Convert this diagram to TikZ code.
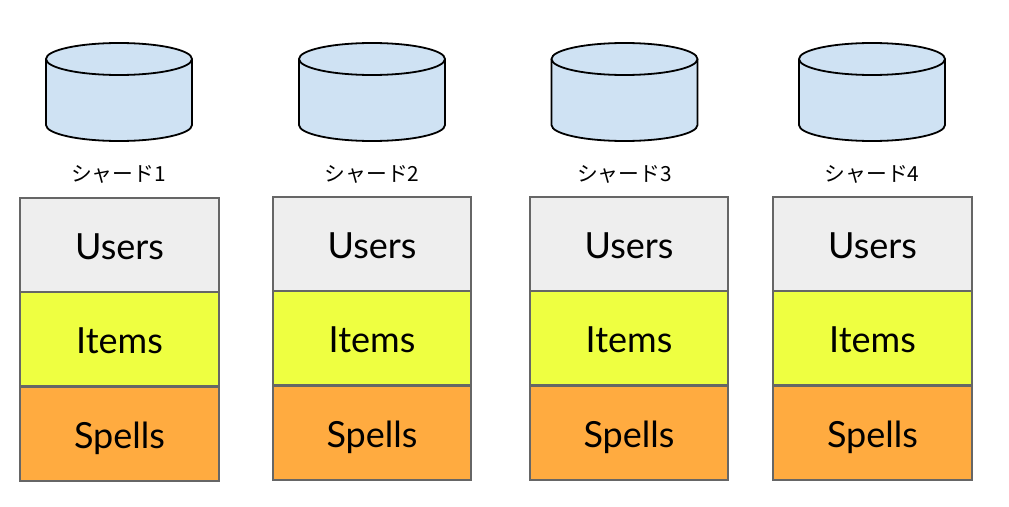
\documentclass[tikz,border=0pt]{standalone}
\usepackage{fontspec}
\setmainfont{Lato}
\newfontfamily\cjk{Noto Sans CJK JP}
\definecolor{drum}{HTML}{CFE2F3}
\definecolor{rule}{HTML}{666666}
\definecolor{usersfill}{HTML}{EEEEEE}
\definecolor{itemsfill}{HTML}{EEFF41}
\definecolor{spellsfill}{HTML}{FFAB40}
\tikzset{
  tbl/.style={draw=rule,line width=2pt,minimum width=198.5pt,minimum height=94.5pt,inner sep=0pt,text height=29pt,text depth=0pt,font=\fontsize{36}{40}\selectfont,text=black},
  shardlabel/.style={font=\cjk\fontsize{20.8}{24}\selectfont,inner sep=0pt},
  drumline/.style={draw=black,line width=1.8pt,fill=drum}
}
\begin{document}
\begin{tikzpicture}[x=1pt,y=-1pt]
\useasboundingbox (0,0) rectangle (1009,506);
\foreach \n/\bx/\cx/\lx/\yo in {1/119.5/119/118.5/1,2/372/372/372/0,3/629/624.5/624.5/0,4/872.5/872/872/0}{
  % cylinder
  \draw[drumline] (\cx-73,59) -- (\cx-73,125) arc[start angle=180,end angle=0,x radius=73,y radius=16] -- (\cx+73,59);
  \draw[drumline] (\cx,59) ellipse[x radius=73,y radius=16];
  \node[shardlabel] (label\n) at (\lx,174) {シャード\n};
  % stacked tables
  \node[tbl,fill=usersfill] (users\n) at (\bx,244+\yo) {Users};
  \node[tbl,fill=itemsfill] (items\n) at (\bx,338+\yo) {Items};
  \node[tbl,fill=spellsfill] (spells\n) at (\bx,433+\yo) {Spells};
}
\end{tikzpicture}
\end{document}
